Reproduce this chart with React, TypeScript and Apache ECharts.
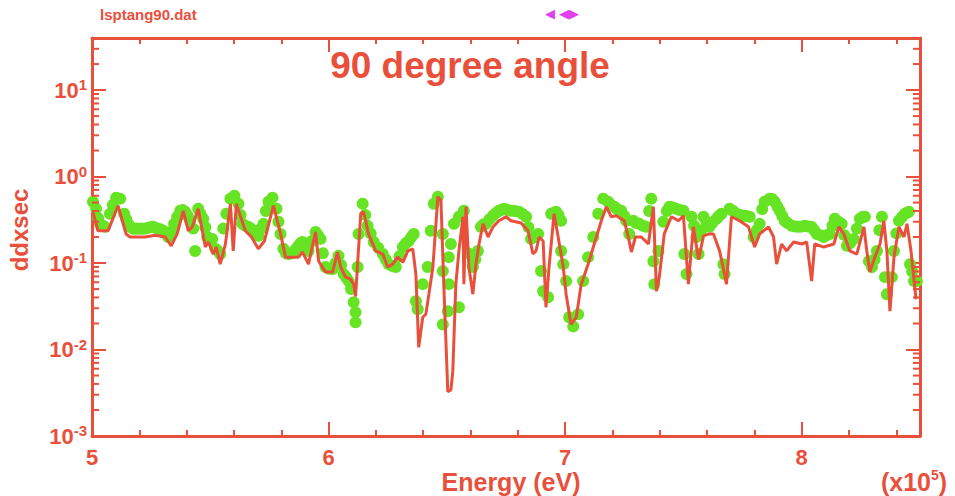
import React, { useEffect, useRef } from 'react';
import * as echarts from 'echarts';

// Calculated curve (red line): energy in units of 10^5 eV, ddxsec
const calcEnergy = [
  5.004, 5.025, 5.068, 5.110, 5.144, 5.161, 5.225, 5.267, 5.309, 5.335,
  5.360, 5.386, 5.407, 5.424, 5.449, 5.479, 5.492, 5.513, 5.525, 5.542,
  5.564, 5.585, 5.597, 5.610, 5.648, 5.674, 5.703, 5.729, 5.767, 5.797,
  5.818, 5.873, 5.890, 5.915, 5.945, 5.958, 5.987, 6.017, 6.038, 6.051,
  6.072, 6.093, 6.106, 6.114, 6.136, 6.148, 6.169, 6.199, 6.229, 6.250,
  6.271, 6.292, 6.314, 6.335, 6.356, 6.369, 6.381, 6.398, 6.411, 6.424,
  6.441, 6.462, 6.475, 6.487, 6.504, 6.517, 6.525, 6.538, 6.551, 6.568,
  6.572, 6.581, 6.593, 6.610, 6.623, 6.636, 6.653, 6.674, 6.695, 6.720,
  6.750, 6.771, 6.814, 6.843, 6.864, 6.877, 6.890, 6.907, 6.919, 6.932,
  6.953, 6.966, 6.992, 7.004, 7.025, 7.047, 7.068, 7.097, 7.123, 7.153,
  7.174, 7.195, 7.216, 7.250, 7.267, 7.280, 7.297, 7.322, 7.352, 7.373,
  7.386, 7.398, 7.419, 7.449, 7.479, 7.500, 7.521, 7.542, 7.564, 7.585,
  7.610, 7.627, 7.653, 7.682, 7.703, 7.737, 7.775, 7.801, 7.822, 7.860,
  7.881, 7.894, 7.915, 7.936, 7.966, 8.000, 8.021, 8.042, 8.055, 8.093,
  8.136, 8.157, 8.178, 8.203, 8.233, 8.263, 8.275, 8.288, 8.309, 8.331,
  8.347, 8.360, 8.373, 8.390, 8.411, 8.432, 8.445, 8.462, 8.483,
];
const calcDdx = [
  0.39, 0.236, 0.236, 0.46, 0.217, 0.20, 0.20, 0.21, 0.20, 0.158,
  0.217, 0.40, 0.236, 0.262, 0.425, 0.153, 0.175, 0.127, 0.153, 0.097,
  0.166, 0.485, 0.138, 0.485, 0.236, 0.20, 0.146, 0.18, 0.46, 0.217,
  0.117, 0.117, 0.134, 0.097, 0.229, 0.105, 0.0786, 0.0786, 0.134, 0.090,
  0.0687, 0.065, 0.057, 0.041, 0.371, 0.392, 0.217, 0.138, 0.127, 0.090,
  0.097, 0.117, 0.102, 0.138, 0.146, 0.0745, 0.0106, 0.0236, 0.0255, 0.0436,
  0.090, 0.585, 0.53, 0.057, 0.00325, 0.0034, 0.00555, 0.057, 0.138, 0.343,
  0.057, 0.448, 0.090, 0.0436, 0.097, 0.166, 0.284, 0.20, 0.262, 0.308,
  0.343, 0.308, 0.29, 0.236, 0.127, 0.138, 0.20, 0.18, 0.0308, 0.090,
  0.371, 0.236, 0.090, 0.0436, 0.0195, 0.0236, 0.057, 0.097, 0.166, 0.308,
  0.448, 0.343, 0.352, 0.308, 0.20, 0.134, 0.20, 0.20, 0.166, 0.448,
  0.0472, 0.0687, 0.217, 0.343, 0.308, 0.352, 0.057, 0.262, 0.11, 0.206,
  0.217, 0.217, 0.138, 0.057, 0.343, 0.308, 0.262, 0.153, 0.217, 0.262,
  0.20, 0.097, 0.166, 0.138, 0.175, 0.166, 0.175, 0.0618, 0.166, 0.153,
  0.166, 0.262, 0.217, 0.138, 0.127, 0.262, 0.138, 0.0786, 0.117, 0.166,
  0.308, 0.138, 0.0277, 0.117, 0.262, 0.20, 0.284, 0.138, 0.0381,
];

// Measured points (green dots)
const measEnergy = [
  5.004, 5.017, 5.034, 5.055, 5.076, 5.102, 5.119, 5.136, 5.153, 5.174,
  5.195, 5.216, 5.237, 5.258, 5.280, 5.301, 5.322, 5.347, 5.373, 5.394,
  5.415, 5.436, 5.449, 5.470, 5.487, 5.508, 5.521, 5.542, 5.568, 5.585,
  5.602, 5.619, 5.636, 5.661, 5.682, 5.703, 5.725, 5.746, 5.763, 5.780,
  5.797, 5.809, 5.831, 5.852, 5.873, 5.890, 5.915, 5.945, 5.966, 5.987,
  6.017, 6.042, 6.064, 6.085, 6.106, 6.114, 6.114, 6.123, 6.127, 6.144,
  6.165, 6.191, 6.229, 6.254, 6.284, 6.314, 6.339, 6.360, 6.369, 6.377,
  6.398, 6.419, 6.432, 6.445, 6.462, 6.483, 6.483, 6.483, 6.504, 6.508,
  6.508, 6.517, 6.530, 6.551, 6.551, 6.572, 6.610, 6.631, 6.644, 6.665,
  6.695, 6.720, 6.742, 6.771, 6.805, 6.835, 6.856, 6.886, 6.898, 6.907,
  6.928, 6.941, 6.962, 6.983, 6.983, 6.992, 7.004, 7.017, 7.034, 7.055,
  7.076, 7.097, 7.119, 7.140, 7.161, 7.182, 7.208, 7.237, 7.258, 7.271,
  7.288, 7.314, 7.343, 7.364, 7.373, 7.377, 7.394, 7.415, 7.441, 7.470,
  7.500, 7.504, 7.513, 7.534, 7.555, 7.564, 7.585, 7.610, 7.640, 7.661,
  7.669, 7.674, 7.695, 7.725, 7.754, 7.780, 7.797, 7.822, 7.843, 7.864,
  7.886, 7.907, 7.928, 7.958, 7.987, 8.013, 8.042, 8.064, 8.093, 8.119,
  8.140, 8.169, 8.191, 8.220, 8.246, 8.267, 8.284, 8.297, 8.318, 8.339,
  8.352, 8.360, 8.381, 8.390, 8.411, 8.436, 8.453, 8.458, 8.475, 8.487,
  5.026, 5.045, 5.088, 5.145, 5.163, 5.185, 5.205, 5.227, 5.248, 5.268,
  5.290, 5.312, 5.335, 5.360, 5.383, 5.405, 5.428, 5.459, 5.479, 5.497,
  5.530, 5.555, 5.628, 5.648, 5.672, 5.692, 5.714, 5.735, 5.788, 5.820,
  5.842, 5.862, 5.882, 5.903, 5.930, 5.955, 5.976, 6.002, 6.030, 6.053,
  6.075, 6.095, 6.155, 6.178, 6.210, 6.242, 6.270, 6.300, 6.327, 6.350,
  6.590, 6.620, 6.655, 6.680, 6.708, 6.730, 6.757, 6.788, 6.820, 6.845,
  6.870, 6.950, 6.972, 7.190, 7.220, 7.250, 7.300, 7.328, 7.355, 7.430,
  7.455, 7.485, 7.545, 7.575, 7.597, 7.622, 7.650, 7.710, 7.740, 7.767,
  7.810, 7.833, 7.875, 7.897, 7.918, 7.940, 7.972, 8.000, 8.027, 8.053,
  8.078, 8.106, 8.130, 8.155, 8.180, 8.205, 8.233, 8.257, 8.308, 8.328,
  8.400, 8.424, 8.445, 8.467,
];
const measDdx = [
  0.512, 0.425, 0.284, 0.262, 0.371, 0.570, 0.555, 0.371, 0.284, 0.249,
  0.249, 0.249, 0.255, 0.262, 0.249, 0.236, 0.20, 0.284, 0.402, 0.392,
  0.308, 0.138, 0.425, 0.325, 0.20, 0.19, 0.146, 0.127, 0.371, 0.555,
  0.601, 0.485, 0.284, 0.262, 0.236, 0.206, 0.284, 0.512, 0.570, 0.425,
  0.217, 0.146, 0.127, 0.134, 0.158, 0.175, 0.138, 0.229, 0.19, 0.090,
  0.085, 0.121, 0.0745, 0.0618, 0.0352, 0.0269, 0.0206, 0.090, 0.217, 0.485,
  0.269, 0.175, 0.127, 0.097, 0.090, 0.153, 0.180, 0.217, 0.0361, 0.0292,
  0.057, 0.090, 0.236, 0.485, 0.585, 0.217, 0.0807, 0.0195, 0.0277, 0.057,
  0.117, 0.166, 0.284, 0.343, 0.0308, 0.402, 0.090, 0.138, 0.262, 0.284,
  0.352, 0.402, 0.425, 0.402, 0.392, 0.343, 0.19, 0.217, 0.0807, 0.0472,
  0.0402, 0.371, 0.392, 0.308, 0.138, 0.097, 0.0618, 0.0236, 0.0185, 0.0255,
  0.0618, 0.117, 0.20, 0.371, 0.555, 0.512, 0.448, 0.402, 0.308, 0.217,
  0.308, 0.284, 0.262, 0.555, 0.105, 0.057, 0.138, 0.30, 0.448, 0.425,
  0.402, 0.127, 0.0745, 0.343, 0.20, 0.127, 0.343, 0.262, 0.325, 0.371,
  0.097, 0.0745, 0.425, 0.371, 0.352, 0.343, 0.20, 0.284, 0.512, 0.555,
  0.512, 0.402, 0.308, 0.269, 0.262, 0.269, 0.262, 0.217, 0.20, 0.217,
  0.325, 0.284, 0.158, 0.19, 0.325, 0.343, 0.105, 0.090, 0.138, 0.343,
  0.0687, 0.0436, 0.0687, 0.138, 0.308, 0.371, 0.392, 0.097, 0.0618, 0.0618,
  0.33, 0.27, 0.47, 0.32, 0.26, 0.25, 0.25, 0.25, 0.26, 0.255,
  0.245, 0.22, 0.23, 0.34, 0.41, 0.35, 0.25, 0.37, 0.26, 0.19,
  0.14, 0.25, 0.36, 0.27, 0.25, 0.22, 0.25, 0.40, 0.30, 0.13,
  0.13, 0.145, 0.17, 0.155, 0.18, 0.21, 0.13, 0.086, 0.10, 0.095,
  0.068, 0.05, 0.36, 0.22, 0.15, 0.11, 0.092, 0.12, 0.17, 0.20,
  0.13, 0.11, 0.28, 0.32, 0.38, 0.41, 0.41, 0.40, 0.37, 0.26,
  0.20, 0.38, 0.36, 0.48, 0.42, 0.35, 0.29, 0.27, 0.40, 0.40,
  0.44, 0.41, 0.27, 0.24, 0.30, 0.29, 0.35, 0.40, 0.36, 0.35,
  0.24, 0.42, 0.55, 0.45, 0.35, 0.29, 0.265, 0.265, 0.265, 0.24,
  0.21, 0.21, 0.27, 0.30, 0.21, 0.17, 0.25, 0.34, 0.11, 0.24,
  0.22, 0.34, 0.38, 0.08,
];

const X_MIN = 5;
const X_MAX = 8.5;
const X_INTERVAL = 1;
const Y_MIN = 0.001;
const Y_MAX = 40;
const DECADES = [-3, -2, -1, 0, 1];
const MINOR_MULTIPLES = [2, 3, 4, 5, 6, 7, 8, 9];

const RED = '#e9503b';
const GREEN = '#66e424';
const FONT = '"Liberation Sans", Arial, Helvetica, sans-serif';

export default function App() {
  const ref = useRef<HTMLDivElement>(null);

  useEffect(() => {
    if (!ref.current) return;
    const chart = echarts.init(ref.current, undefined, { renderer: 'svg' });

    const lineData = calcEnergy.map((x, i) => [x, calcDdx[i]]);
    const dotData = measEnergy.map((x, i) => [x, measDdx[i]]);
    const minorVals: number[][] = [];
    DECADES.forEach((d) => {
      MINOR_MULTIPLES.forEach((m) => {
        const v = m * Math.pow(10, d);
        if (v <= Y_MAX) minorVals.push([X_MIN, v]);
      });
    });

    const yLabel = (v: number) => {
      const lg = Math.log10(v);
      const e = Math.round(lg);
      if (Math.abs(lg - e) > 1e-6) return '';
      return '{b|10}{s|' + (e < 0 ? '-' + Math.abs(e) : String(e)) + '}';
    };

    const axisCommonX = {
      type: 'value' as const,
      min: X_MIN,
      max: X_MAX,
      interval: X_INTERVAL,
      axisLine: { show: true, onZero: false, lineStyle: { color: RED, width: 3 } },
      axisTick: { show: true, inside: true, length: 14, lineStyle: { color: RED, width: 2 } },
      minorTick: { show: true, splitNumber: 5, length: 6, lineStyle: { color: RED, width: 2 } },
      splitLine: { show: false },
    };
    const axisCommonY = {
      type: 'log' as const,
      min: Y_MIN,
      max: Y_MAX,
      logBase: 10,
      axisLine: { show: true, onZero: false, lineStyle: { color: RED, width: 3 } },
      axisTick: { show: true, inside: true, length: 14, lineStyle: { color: RED, width: 2 } },
      splitLine: { show: false },
    };

    chart.setOption({
      animation: false,
      backgroundColor: '#ffffff',
      grid: { left: 92, right: 35, top: 38, bottom: 60, containLabel: false },
      xAxis: [
        {
          ...axisCommonX,
          position: 'bottom',
          axisLabel: {
            show: true,
            color: RED,
            fontFamily: FONT,
            fontWeight: 'bold',
            fontSize: 22,
            margin: 10,
            formatter: (v: number) => (Number.isInteger(v) ? String(v) : ''),
          },
        },
        {
          ...axisCommonX,
          position: 'top',
          axisLabel: { show: false },
        },
      ],
      yAxis: [
        {
          ...axisCommonY,
          position: 'left',
          axisLabel: {
            show: true,
            margin: 5,
            formatter: yLabel,
            rich: {
              b: { color: RED, fontFamily: FONT, fontWeight: 'bold', fontSize: 22, lineHeight: 26 },
              s: { color: RED, fontFamily: FONT, fontWeight: 'bold', fontSize: 15, verticalAlign: 'top' },
            },
          },
        },
        {
          ...axisCommonY,
          position: 'right',
          axisLabel: { show: false },
        },
      ],
      series: [
        {
          type: 'custom',
          name: 'minorTicks',
          xAxisIndex: 0,
          yAxisIndex: 0,
          clip: false,
          silent: true,
          data: minorVals,
          renderItem: (params: any, api: any) => {
            const v = api.value(1);
            const pl = api.coord([X_MIN, v]);
            const pr = api.coord([X_MAX, v]);
            const st = { stroke: RED, lineWidth: 2 };
            return {
              type: 'group',
              children: [
                { type: 'line', shape: { x1: pl[0], y1: pl[1], x2: pl[0] + 7, y2: pl[1] }, style: st },
                { type: 'line', shape: { x1: pr[0] - 7, y1: pr[1], x2: pr[0], y2: pr[1] }, style: st },
              ],
            };
          },
          z: 5,
        },
        {
          type: 'scatter',
          name: 'measured',
          data: dotData,
          symbol: 'circle',
          symbolSize: 12,
          itemStyle: { color: GREEN, opacity: 1 },
          z: 2,
        },
        {
          type: 'line',
          name: 'calculated',
          data: lineData,
          showSymbol: false,
          symbol: 'none',
          lineStyle: { color: RED, width: 3 },
          z: 3,
        },
      ],
      graphic: [
        {
          type: 'text',
          x: 470,
          y: 65,
          style: {
            text: '90 degree angle',
            fill: RED,
            font: 'bold 37px ' + FONT,
            align: 'center',
            verticalAlign: 'middle',
          },
        },
        {
          type: 'text',
          x: 100,
          y: 14,
          style: {
            text: 'lsptang90.dat',
            fill: RED,
            font: 'bold 15px ' + FONT,
            align: 'left',
            verticalAlign: 'middle',
          },
        },
        {
          type: 'text',
          x: 562,
          y: 13,
          style: {
            text: '◀ ◀▶',
            fill: '#e040f0',
            font: '13px "DejaVu Sans", sans-serif',
            align: 'center',
            verticalAlign: 'middle',
          },
        },
        {
          type: 'text',
          x: 19,
          y: 230,
          rotation: Math.PI / 2,
          style: {
            text: 'ddxsec',
            fill: RED,
            font: 'bold 24px ' + FONT,
            align: 'center',
            verticalAlign: 'middle',
          },
        },
        {
          type: 'text',
          x: 511,
          y: 482,
          style: {
            text: 'Energy (eV)',
            fill: RED,
            font: 'bold 25px ' + FONT,
            align: 'center',
            verticalAlign: 'middle',
          },
        },
        {
          type: 'text',
          x: 914,
          y: 482,
          style: {
            text: '{a|(x10}{b|5}{a|)}',
            align: 'center',
            verticalAlign: 'middle',
            rich: {
              a: { fill: RED, fontFamily: FONT, fontWeight: 'bold', fontSize: 25, lineHeight: 28 },
              b: { fill: RED, fontFamily: FONT, fontWeight: 'bold', fontSize: 14, verticalAlign: 'top' },
            },
          },
        },
      ],
    });

    return () => chart.dispose();
  }, []);

  return (
    <div
      ref={ref}
      style={{ position: 'absolute', left: 0, top: 0, width: 955, height: 496 }}
    />
  );
}
